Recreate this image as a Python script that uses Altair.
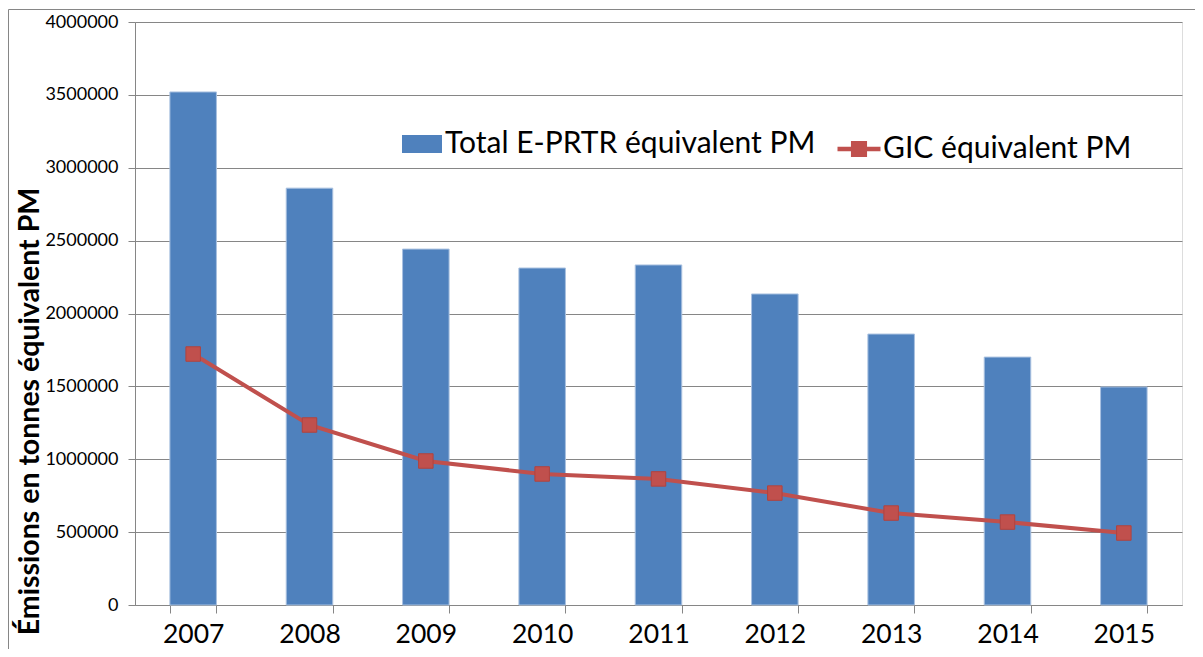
import altair as alt
import pandas as pd

years = ["2007", "2008", "2009", "2010", "2011", "2012", "2013", "2014", "2015"]
total_eprtr = [3520000, 2860000, 2442000, 2312000, 2333000, 2134000, 1859000, 1701000, 1496000]
gic = [1722000, 1235000, 988000, 899000, 865000, 768000, 631000, 569000, 494000]
label_total = "Total E-PRTR équivalent PM"
label_gic = "GIC équivalent PM"
y_ticks = [0, 500000, 1000000, 1500000, 2000000, 2500000, 3000000, 3500000, 4000000]
y_title = "Émissions en tonnes équivalent PM"

df = pd.DataFrame({
    "year": years,
    "total": total_eprtr,
    "gic": gic,
    "s1": [label_total] * len(years),
    "s2": [label_gic] * len(years),
})

FONT = "Lato"
GRAY = "#868686"
BLUE = "#4F81BD"
RED = "#C0504D"

W, H = 1047, 583
PAD = {"left": 127, "top": 14, "right": 13, "bottom": 44}

x_enc = alt.X(
    "year:N",
    sort=years,
    scale=alt.Scale(paddingInner=0.6, paddingOuter=0.3),
    axis=alt.Axis(
        title=None, labelAngle=0, tickBand="extent", tickSize=8,
        tickColor=GRAY, domainColor=GRAY, labelFont=FONT, labelFontSize=26.5,
        labelColor="#000000", labelBaseline="alphabetic", labelPadding=29,
        grid=False,
    ),
)
y_enc = alt.Y(
    "total:Q",
    scale=alt.Scale(domain=[0, 4000000], nice=False),
    axis=alt.Axis(
        title=y_title, values=y_ticks, format="d", tickSize=7, tickColor=GRAY,
        domainColor=GRAY, gridColor=GRAY, grid=True, labelFont=FONT,
        labelFontSize=18, labelColor="#000000", labelPadding=10,
        titleFont=FONT, titleFontSize=28.5, titleFontWeight="bold",
        titleColor="#000000", titleAngle=270, titleAlign="center",
        titleBaseline="alphabetic", titleX=-97, titleY=389,
    ),
)

bars = alt.Chart(df).mark_bar(stroke="#A9C1E0", strokeWidth=1).encode(
    x=x_enc,
    y=y_enc,
    fill=alt.Fill(
        "s1:N",
        scale=alt.Scale(domain=[label_total], range=[BLUE]),
        legend=alt.Legend(
            title=None, orient="none", legendX=267, legendY=102,
            symbolType="M-1,-0.45L1,-0.45L1,0.45L-1,0.45Z", symbolSize=1600,
            symbolStrokeWidth=0, labelFont=FONT, labelFontSize=30,
            labelColor="#000000", labelOffset=3, labelLimit=700, padding=0,
        ),
    ),
)

line = alt.Chart(df).mark_line(strokeWidth=4).encode(
    x=alt.X("year:N", sort=years),
    y=alt.Y("gic:Q"),
    stroke=alt.Stroke(
        "s2:N",
        scale=alt.Scale(domain=[label_gic], range=[RED]),
        legend=alt.Legend(
            title=None, orient="none", legendX=700, legendY=103,
            symbolType="M-1,0L1,0M-0.27,-0.27L0.27,-0.27L0.27,0.27L-0.27,0.27Z",
            symbolSize=1849, labelFont=FONT, labelFontSize=30,
            labelColor="#000000", labelOffset=0, labelLimit=700, padding=0,
            symbolFillColor=RED, symbolStrokeColor=RED, symbolStrokeWidth=4.5,
            symbolOpacity=1,
        ),
    ),
)

points = alt.Chart(df).mark_point(
    shape="square", filled=True, size=210, color=RED, stroke="#B0433F",
    strokeWidth=1, opacity=1,
).encode(
    x=alt.X("year:N", sort=years),
    y=alt.Y("gic:Q"),
)

border = alt.Chart(pd.DataFrame({"a": [0]})).mark_rect(
    fill="transparent", stroke=GRAY, strokeWidth=1
).encode(
    x=alt.value(-126.5), x2=alt.value(W + 40),
    y=alt.value(-12.5), y2=alt.value(H + 80),
)

chart = alt.layer(border, bars, line, points).properties(
    width=W, height=H, padding=PAD,
    autosize=alt.AutoSizeParams(type="none"),
).configure_view(stroke=None).configure(background="white")

chart.save("out.html", embed_options={"renderer": "svg", "actions": False})
